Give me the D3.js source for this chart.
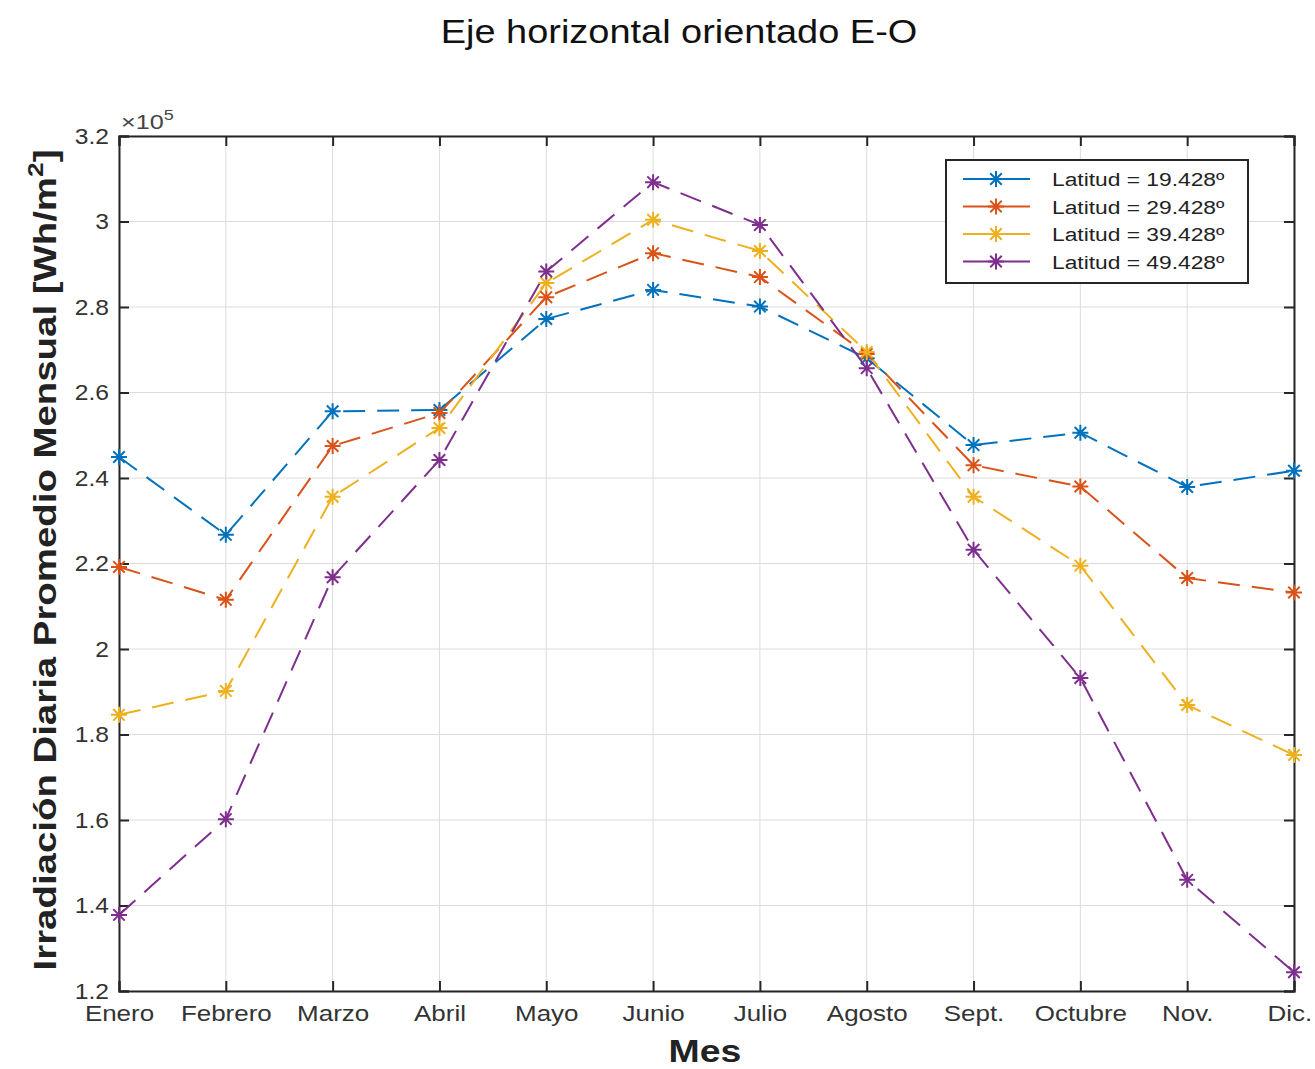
<!DOCTYPE html>
<html>
<head>
<meta charset="utf-8">
<script src="https://cdn.jsdelivr.net/npm/d3@7"></script>
<style>
  html, body { margin: 0; padding: 0; background: #fff; }
  svg { display: block; font-family: "Liberation Sans", Arial, sans-serif; }
</style>
</head>
<body>
<svg id="chart" width="1315" height="1069"></svg>
<script>
// Monthly average daily irradiation, E-W horizontal axis tracking (values in units of 1e5 Wh/m2)
const months = ["Enero", "Febrero", "Marzo", "Abril", "Mayo", "Junio", "Julio", "Agosto", "Sept.", "Octubre", "Nov.", "Dic."];
const lat19 = [2.449, 2.267, 2.556, 2.559, 2.772, 2.840, 2.801, 2.680, 2.477, 2.506, 2.379, 2.417];
const lat29 = [2.192, 2.115, 2.475, 2.552, 2.823, 2.926, 2.870, 2.690, 2.430, 2.380, 2.166, 2.132];
const lat39 = [1.846, 1.902, 2.356, 2.517, 2.856, 3.004, 2.931, 2.695, 2.356, 2.195, 1.869, 1.752];
const lat49 = [1.378, 1.602, 2.168, 2.442, 2.883, 3.092, 2.992, 2.657, 2.232, 1.932, 1.460, 1.244];
const seriesNames = ["Latitud = 19.428º", "Latitud = 29.428º", "Latitud = 39.428º", "Latitud = 49.428º"];
const seriesColors = ["#0072BD", "#D95319", "#EDB120", "#7E2F8E"];
const yTicks = [1.2, 1.4, 1.6, 1.8, 2, 2.2, 2.4, 2.6, 2.8, 3, 3.2];

const series = [lat19, lat29, lat39, lat49].map((vals, i) => ({
  name: seriesNames[i], color: seriesColors[i], values: vals
}));

const svg = d3.select("#chart");
const m = { left: 119, right: 1294, top: 136, bottom: 991 };
const SX = 1.2; // horizontal widening of the text glyphs

const x = d3.scalePoint().domain(months).range([m.left, m.right]);
const y = d3.scaleLinear().domain([1.2, 3.2]).range([m.bottom, m.top]);

// grid
const grid = svg.append("g").attr("stroke", "#dcdcdc").attr("stroke-width", 1);
grid.selectAll("line.v").data(months).join("line").attr("class", "v")
  .attr("x1", d => x(d)).attr("x2", d => x(d)).attr("y1", m.top).attr("y2", m.bottom);
grid.selectAll("line.h").data(yTicks).join("line").attr("class", "h")
  .attr("x1", m.left).attr("x2", m.right).attr("y1", d => y(d)).attr("y2", d => y(d));

// axes (inward ticks, box on all sides)
const tickLen = 10;
const xAxis = d3.axisBottom(x).tickSize(-tickLen).tickPadding(14);
const yAxis = d3.axisLeft(y).tickValues(yTicks).tickSize(-tickLen).tickPadding(10)
  .tickFormat(d => d3.format("~g")(d));

const gx = svg.append("g").attr("transform", `translate(0,${m.bottom})`).call(xAxis);
const gy = svg.append("g").attr("transform", `translate(${m.left},0)`).call(yAxis);
svg.append("g").attr("transform", `translate(0,${m.top})`)
  .call(d3.axisTop(x).tickSize(-tickLen).tickFormat(""));
svg.append("g").attr("transform", `translate(${m.right},0)`)
  .call(d3.axisRight(y).tickValues(yTicks).tickSize(-tickLen).tickFormat(""));

svg.selectAll(".domain").attr("stroke", "#262626").attr("stroke-width", 2);
svg.selectAll(".tick line").attr("stroke", "#262626").attr("stroke-width", 2);
gx.selectAll("text").attr("font-size", 22).attr("fill", "#333")
  .attr("font-family", "Liberation Sans, Arial, sans-serif")
  .attr("x", d => d === months[months.length - 1] ? -4 : 0)
  .attr("transform", `scale(1.18,1)`);
gy.selectAll("text").attr("font-size", 22).attr("fill", "#333")
  .attr("font-family", "Liberation Sans, Arial, sans-serif")
  .attr("x", -10 / 1.12).attr("transform", "scale(1.12,1)");

// exponent label
const expo = svg.append("text").attr("transform", `translate(121,129) scale(${SX},1)`)
  .attr("font-size", 21).attr("fill", "#444");
expo.append("tspan").text("×10");
expo.append("tspan").attr("dy", -9).attr("font-size", 15).text("5");

// lines
const line = d3.line().x((d, i) => x(months[i])).y(d => y(d));
const plot = svg.append("g");
series.forEach(s => {
  plot.append("path").datum(s.values)
    .attr("d", line).attr("fill", "none")
    .attr("stroke", s.color).attr("stroke-width", 2)
    .attr("stroke-dasharray", "22,12");
});

// asterisk marker
function star(g, cx, cy, r, color) {
  const a = r * 0.72;
  g.append("path")
    .attr("d", `M${cx - r},${cy}H${cx + r}M${cx},${cy - r}V${cy + r}` +
      `M${cx - a},${cy - a}L${cx + a},${cy + a}M${cx - a},${cy + a}L${cx + a},${cy - a}`)
    .attr("stroke", color).attr("stroke-width", 2).attr("fill", "none");
}
series.forEach(s => {
  const g = plot.append("g");
  s.values.forEach((v, i) => star(g, x(months[i]), y(v), 8, s.color));
});

// title
svg.append("text").attr("transform", "translate(679,43) scale(1.15,1)")
  .attr("text-anchor", "middle")
  .attr("font-size", 33).attr("fill", "#111").text("Eje horizontal orientado E-O");

// axis labels
svg.append("text").attr("transform", "translate(705,1062) scale(1.17,1)")
  .attr("text-anchor", "middle")
  .attr("font-size", 32).attr("font-weight", "bold").attr("fill", "#222").text("Mes");

const yl = svg.append("text")
  .attr("transform", `translate(56,560) rotate(-90) scale(${SX},1)`)
  .attr("text-anchor", "middle").attr("font-size", 32).attr("font-weight", "bold").attr("fill", "#222");
yl.append("tspan").text("Irradiación Diaria Promedio Mensual [Wh/m");
yl.append("tspan").attr("dy", -13).attr("font-size", 22).text("2");
yl.append("tspan").attr("dy", 13).text("]");

// legend
const lg = svg.append("g");
lg.append("rect").attr("x", 946).attr("y", 160).attr("width", 302).attr("height", 123)
  .attr("fill", "#fff").attr("stroke", "#262626").attr("stroke-width", 2);
series.forEach((s, i) => {
  const ly = 179 + i * 27.5;
  lg.append("line").attr("x1", 963).attr("x2", 1030).attr("y1", ly).attr("y2", ly)
    .attr("stroke", s.color).attr("stroke-width", 2);
  star(lg, 996, ly, 8, s.color);
  lg.append("text").attr("transform", `translate(1052,${ly + 7}) scale(${SX},1)`)
    .attr("font-size", 19).attr("fill", "#222").text(s.name);
});
</script>
</body>
</html>
